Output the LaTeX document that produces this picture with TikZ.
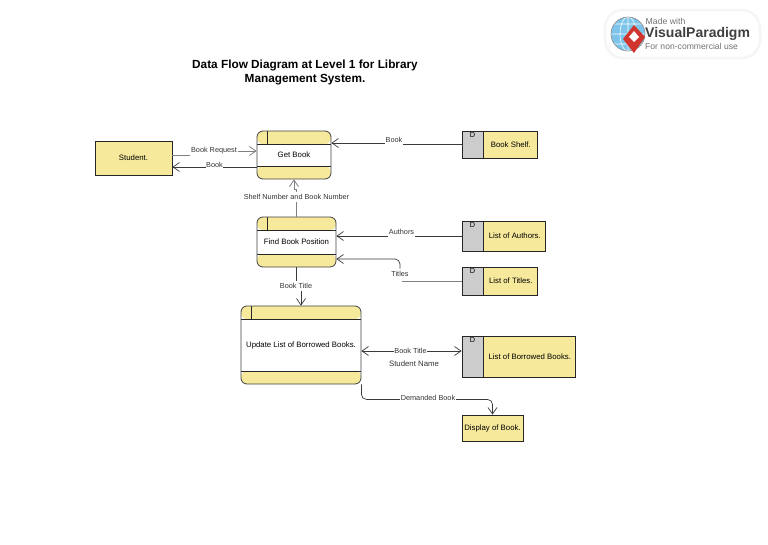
\documentclass[tikz,border=0pt]{standalone}
\usepackage{fontspec}
\setmainfont{Liberation Sans}
\usetikzlibrary{arrows.meta,positioning}
\definecolor{dfdYellow}{HTML}{F6E99B}
\definecolor{dfdGray}{HTML}{CCCCCC}
\definecolor{dfdLine}{HTML}{3A3A3A}
\definecolor{vpBlue}{HTML}{7CC4EA}
\definecolor{vpRed}{HTML}{D0342C}

\begin{document}
\begin{tikzpicture}[
    x=1pt, y=-1pt,
    font=\fontsize{7.8}{9}\selectfont,
    entity/.style={draw=black!85, rectangle, line width=0.8pt, inner sep=0pt, align=center, fill=dfdYellow},
    dbox/.style={entity, fill=dfdGray, minimum width=21pt, label={[anchor=north, inner sep=1.5pt, font=\fontsize{7.3}{9}\selectfont]north:D}},
    process/.style={draw=black!75, rectangle, rounded corners=6pt, line width=0.8pt, inner sep=0pt, align=center, fill=white,
        path picture={
            \fill[dfdYellow] (path picture bounding box.north west) rectangle ([yshift=-13pt]path picture bounding box.north east);
            \fill[dfdYellow] (path picture bounding box.south west) rectangle ([yshift=13pt]path picture bounding box.south east);
            \draw[black!85, line width=0.8pt] ([yshift=-13pt]path picture bounding box.north west) -- ([yshift=-13pt]path picture bounding box.north east);
            \draw[black!85, line width=0.8pt] ([yshift=13pt]path picture bounding box.south west) -- ([yshift=13pt]path picture bounding box.south east);
            \draw[black!85, line width=0.8pt] ([xshift=10pt]path picture bounding box.north west) -- ([xshift=10pt,yshift=-13pt]path picture bounding box.north west);
        }},
    flow/.style={draw=dfdLine, line width=0.7pt, -{Straight Barb[length=6.5pt,width=9pt]}},
    faint/.style={draw=black!50, line width=0.8pt},
    flowlabel/.style={font=\fontsize{7.3}{9}\selectfont, fill=white, inner xsep=0.5pt, inner ysep=2.5pt, text=black!80}
]
    \useasboundingbox (0,0) rectangle (768,544);

    \node[font=\bfseries\fontsize{11.8}{14}\selectfont, align=center] (title) at (305,72.5) {Data Flow Diagram at Level 1 for Library\\Management System.};

    \node[entity, minimum width=77pt, minimum height=34pt] (student) at (133.5,158) {Student.};
    \node[process, minimum width=74pt, minimum height=48pt] (getbook) at (294,155) {Get Book};
    \node[process, minimum width=79pt, minimum height=50pt] (findpos) at (296.5,242) {Find Book Position};
    \node[process, minimum width=120pt, minimum height=78pt] (update) at (301,345) {Update List of Borrowed Books.};

    % data stores
    \node[dbox, minimum height=27pt] (shelfD) at (472.5,144.5) {};
    \node[entity, right=0pt of shelfD, minimum width=54pt, minimum height=27pt] (shelf) {Book Shelf.};
    \node[dbox, minimum height=30pt] (authorsD) at (472.5,236) {};
    \node[entity, right=0pt of authorsD, minimum width=62pt, minimum height=30pt] (authors) {List of Authors.};
    \node[dbox, minimum height=28pt] (titlesD) at (472.5,281) {};
    \node[entity, right=0pt of titlesD, minimum width=54pt, minimum height=28pt] (titles) {List of Titles.};
    \node[dbox, minimum height=41pt] (borrowedD) at (472.5,356.5) {};
    \node[entity, right=0pt of borrowedD, minimum width=92pt, minimum height=41pt] (borrowed) {List of Borrowed Books.};
    \node[entity, minimum width=61pt, minimum height=26pt] (display) at (492.5,428) {Display of Book.};

    % flows
    \node[flowlabel] (lbRequest) at (214,151) {Book Request};
    \draw[faint] ([yshift=3pt]student.east) -- ([yshift=3pt]student.east -| lbRequest.west);
    \draw[flow, faint] (lbRequest.east) -- (lbRequest.east -| getbook.west);
    \draw[flow] ([yshift=-12pt]getbook.west) -- node[flowlabel, yshift=2pt] (lbBook) {Book} (student.east |- 0,167);

    \draw[flow] (shelfD.west) -- ++(-68,0) |- ([yshift=12pt]getbook.east);
    \node[flowlabel] (lbShelf) at (394,140) {Book};

    \draw[flow, faint] (findpos.north) -- ++(0,-27) -| (getbook.south);
    \node[flowlabel] (lbNumber) at (296.5,197) {Shelf Number and Book Number};

    \draw[flow] (authorsD.west) -- node[flowlabel, yshift=4.5pt, pos=0.48] (lbAuthors) {Authors} ([yshift=6pt]findpos.east);

    \node[flowlabel] (lbTitles) at (400,274) {Titles};
    \draw[faint] (titlesD.west) -- ([xshift=2pt]titlesD.west -| lbTitles.center);
    \draw[flow, rounded corners=5pt] (lbTitles.north) |- ([yshift=-17pt]findpos.east);

    \draw[flow] (findpos.south) -- ++(0,20) -| (update.north);
    \node[flowlabel] (lbTitle) at (296,286) {Book Title};

    \draw[flow, {Straight Barb[length=6.5pt,width=9pt]}-{Straight Barb[length=6.5pt,width=9pt]}] ([yshift=-6pt]update.east) -- node[flowlabel, pos=0.49] (lbBorrow) {Book Title} ([yshift=5.5pt]borrowedD.west);
    \node[font=\fontsize{7.8}{9}\selectfont, text=black!80] (lbName) at (414,364) {Student Name};

    \draw[flow, rounded corners=5pt] (update.south east) -- ++(0,15) -| (display.north);
    \node[flowlabel] (lbDemand) at (428,398) {Demanded Book};

    % badge
    \draw[black!4, line width=2.5pt, fill=white, rounded corners=18pt] (605,10) rectangle (760,58);
    \fill[vpBlue] (628,34) circle (17);
    \draw[white, line width=0.6pt] (628,17) -- (628,51) (611,34) -- (645,34) (628,17) arc[start angle=90, end angle=270, x radius=8, y radius=-17] (628,17) arc[start angle=90, end angle=-90, x radius=8, y radius=-17] (614,24) -- (642,24) (614,44) -- (642,44);
    \draw[black!45, line width=0.6pt] (628,34) circle (17);
    \fill[vpRed] (634,25) -- (645,37) -- (634,53) -- (623,39) -- cycle;
    \fill[white] (634,31) -- (639,37) -- (634,42) -- (629,37) -- cycle;
    \node[anchor=west, inner sep=0pt, font=\fontsize{8.7}{10}\selectfont, text=black!55] (vpMade) at (645.5,21) {Made with};
    \node[anchor=west, inner sep=0pt, font=\bfseries\fontsize{14}{16}\selectfont, text=black!75] (vpName) at (645,33.5) {VisualParadigm};
    \node[anchor=west, inner sep=0pt, font=\fontsize{8.6}{10}\selectfont, text=black!55] (vpUse) at (645,46) {For non-commercial use};
\end{tikzpicture}
\end{document}
